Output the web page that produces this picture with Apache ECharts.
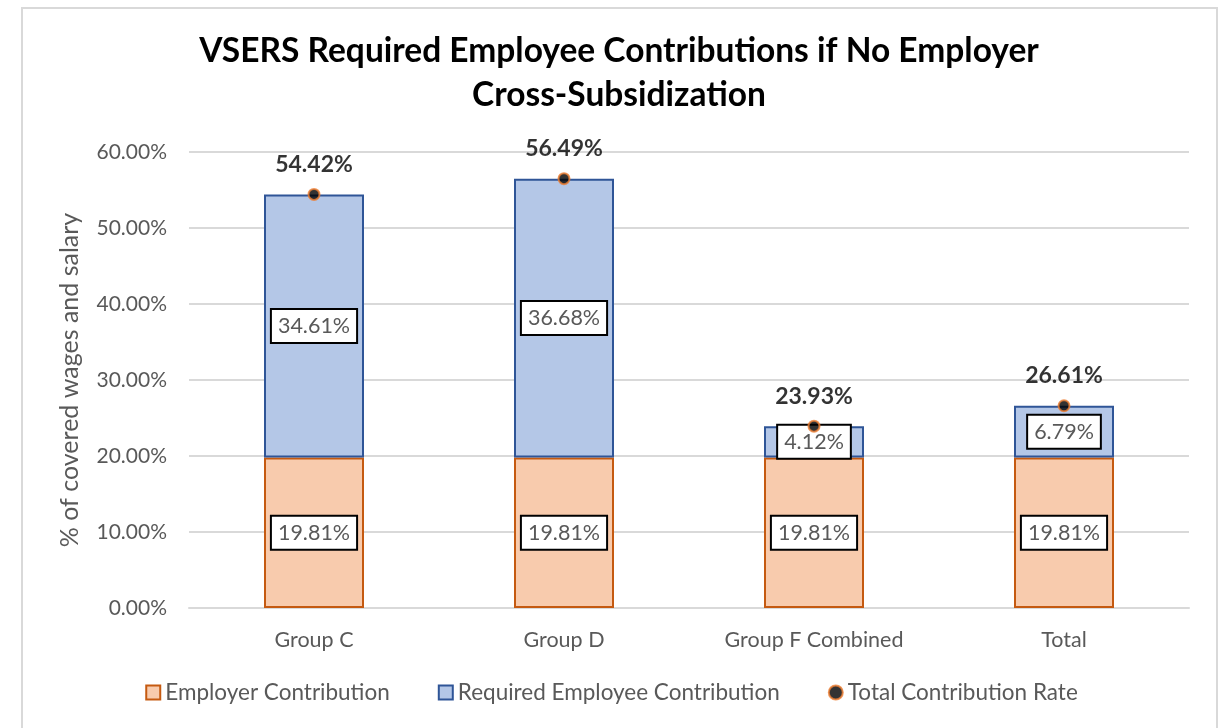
<!DOCTYPE html>
<html>
<head>
<meta charset="utf-8">
<script src="https://cdn.jsdelivr.net/npm/echarts@6/dist/echarts.min.js"></script>
<style>
html,body{margin:0;padding:0;background:#fff;}
#frame{position:absolute;left:21px;top:7px;width:1197px;height:740px;border:2px solid #d9d9d9;box-sizing:border-box;}
#c{position:absolute;left:0;top:0;width:1223px;height:728px;}
</style>
</head>
<body>
<div id="frame"></div>
<div id="c"></div>
<script>
const categories = ['Group C', 'Group D', 'Group F Combined', 'Total'];
const employer = [19.81, 19.81, 19.81, 19.81];
const employee = [34.61, 36.68, 4.12, 6.79];
const totalRate = [54.42, 56.49, 23.93, 26.61];
const yTicks = [0, 10, 20, 30, 40, 50, 60];

const font = 'Lato, "Open Sans", sans-serif';
const chart = echarts.init(document.getElementById('c'));
const boxLabel = {
  show: true,
  position: 'inside',
  formatter: p => p.value.toFixed(2) + '%',
  color: '#595959',
  fontFamily: font,
  fontSize: 21.5,
  backgroundColor: '#fff',
  borderColor: '#000',
  borderWidth: 2,
  padding: [6, 6, 4, 6]
};
chart.setOption({
  animation: false,
  title: {
    text: 'VSERS Required Employee Contributions if No Employer\nCross-Subsidization',
    left: 614, top: 24, textAlign: 'center',
    textStyle: {fontFamily: font, fontWeight: 'bold', fontSize: 33.5, color: '#000', lineHeight: 44}
  },
  legend: {
    bottom: 19, left: 'center', itemGap: 48, itemWidth: 14, itemHeight: 14,
    textStyle: {fontFamily: font, fontSize: 22.5, color: '#595959', padding: [0, 0, 0, 0]},
    data: [
      {name: 'Employer Contribution', icon: 'rect'},
      {name: 'Required Employee Contribution', icon: 'rect'},
      {name: 'Total Contribution Rate', icon: 'circle'}
    ]
  },
  grid: {left: 189, right: 34, top: 152, bottom: 120},
  xAxis: {
    type: 'category', data: categories,
    axisLine: {lineStyle: {color: '#d9d9d9', width: 2}},
    axisTick: {show: false},
    axisLabel: {fontFamily: font, fontSize: 21.5, color: '#595959', margin: 21}
  },
  yAxis: {
    type: 'value', min: 0, max: 60, interval: 10,
    name: '% of covered wages and salary', nameLocation: 'middle', nameGap: 107,
    nameTextStyle: {fontFamily: font, fontSize: 25, color: '#595959'},
    axisLabel: {fontFamily: font, fontSize: 21, color: '#595959', margin: 22,
      formatter: v => v.toFixed(2) + '%'},
    splitLine: {lineStyle: {color: '#d9d9d9', width: 2}},
    axisLine: {show: false}, axisTick: {show: false}
  },
  series: [
    {
      name: 'Employer Contribution', type: 'bar', stack: 's', barWidth: '40%',
      data: employer,
      itemStyle: {color: '#f8cbad', borderColor: '#c55a11', borderWidth: 2},
      label: boxLabel
    },
    {
      name: 'Required Employee Contribution', type: 'bar', stack: 's',
      data: employee,
      itemStyle: {color: '#b4c7e7', borderColor: '#2f5597', borderWidth: 2},
      label: boxLabel
    },
    {
      name: 'Total Contribution Rate', type: 'scatter', data: totalRate,
      symbolSize: 11,
      itemStyle: {color: '#000', borderColor: '#ed7d31', borderWidth: 2},
      label: {show: true, position: 'top', distance: 12,
        formatter: p => p.value.toFixed(2) + '%',
        fontFamily: font, fontWeight: 'bold', fontSize: 23, color: '#000'},
      z: 10
    }
  ]
});
</script>
</body>
</html>
